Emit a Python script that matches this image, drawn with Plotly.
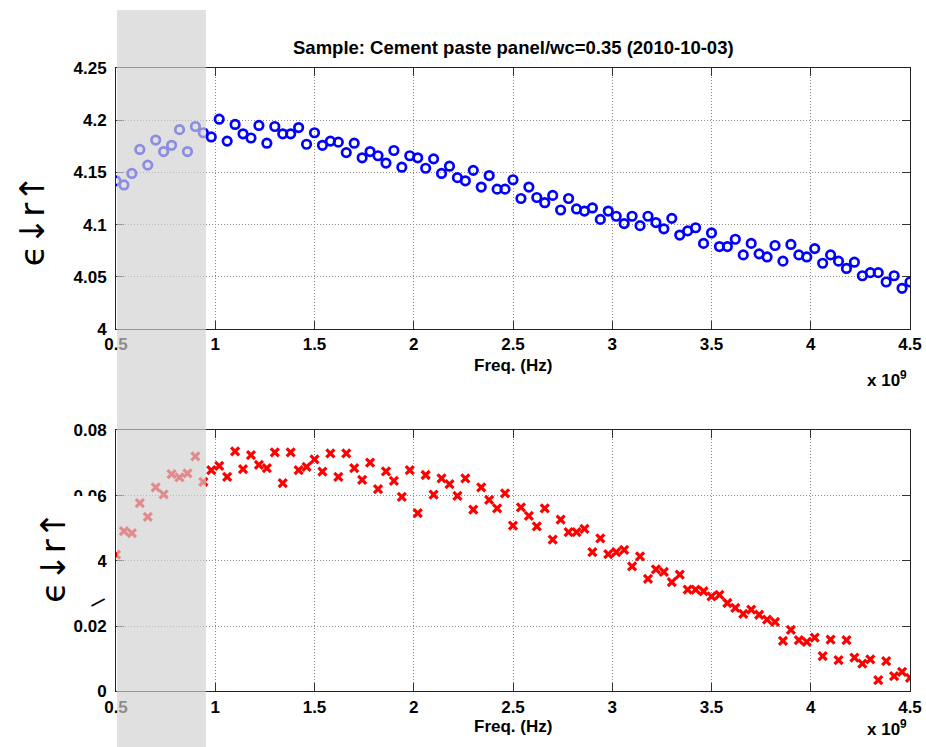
import plotly.graph_objects as go

freq_ghz = [0.50, 0.54, 0.58, 0.62, 0.66, 0.70, 0.74, 0.78, 0.82, 0.86,
            0.90, 0.94, 0.98, 1.02, 1.06, 1.10, 1.14, 1.18, 1.22, 1.26,
            1.30, 1.34, 1.38, 1.42, 1.46, 1.50, 1.54, 1.58, 1.62, 1.66,
            1.70, 1.74, 1.78, 1.82, 1.86, 1.90, 1.94, 1.98, 2.02, 2.06,
            2.10, 2.14, 2.18, 2.22, 2.26, 2.30, 2.34, 2.38, 2.42, 2.46,
            2.50, 2.54, 2.58, 2.62, 2.66, 2.70, 2.74, 2.78, 2.82, 2.86,
            2.90, 2.94, 2.98, 3.02, 3.06, 3.10, 3.14, 3.18, 3.22, 3.26,
            3.30, 3.34, 3.38, 3.42, 3.46, 3.50, 3.54, 3.58, 3.62, 3.66,
            3.70, 3.74, 3.78, 3.82, 3.86, 3.90, 3.94, 3.98, 4.02, 4.06,
            4.10, 4.14, 4.18, 4.22, 4.26, 4.30, 4.34, 4.38, 4.42, 4.46,
            4.50]

eps_real = [4.142, 4.138, 4.149, 4.172, 4.157, 4.181, 4.170, 4.176, 4.191, 4.170,
            4.194, 4.188, 4.184, 4.201, 4.180, 4.196, 4.187, 4.183, 4.195, 4.178,
            4.194, 4.187, 4.187, 4.193, 4.177, 4.188, 4.176, 4.180, 4.179, 4.169,
            4.178, 4.164, 4.170, 4.166, 4.159, 4.171, 4.155, 4.166, 4.164, 4.154,
            4.163, 4.149, 4.156, 4.145, 4.142, 4.152, 4.136, 4.147, 4.134, 4.134,
            4.143, 4.125, 4.136, 4.126, 4.121, 4.128, 4.114, 4.125, 4.115, 4.113,
            4.116, 4.105, 4.113, 4.108, 4.101, 4.108, 4.099, 4.108, 4.102, 4.096,
            4.106, 4.090, 4.094, 4.097, 4.082, 4.092, 4.079, 4.079, 4.086, 4.071,
            4.082, 4.072, 4.069, 4.080, 4.065, 4.081, 4.071, 4.069, 4.077, 4.063,
            4.071, 4.065, 4.058, 4.064, 4.051, 4.054, 4.054, 4.045, 4.051, 4.039,
            4.045]

eps_imag = [0.0419, 0.0491, 0.0485, 0.0577, 0.0535, 0.0625, 0.0604, 0.0666, 0.0656, 0.0668,
            0.0720, 0.0642, 0.0678, 0.0691, 0.0657, 0.0735, 0.0681, 0.0724, 0.0694, 0.0684,
            0.0732, 0.0638, 0.0732, 0.0678, 0.0688, 0.0711, 0.0673, 0.0729, 0.0657, 0.0729,
            0.0684, 0.0648, 0.0701, 0.0620, 0.0674, 0.0645, 0.0596, 0.0678, 0.0546, 0.0663,
            0.0603, 0.0653, 0.0635, 0.0599, 0.0653, 0.0557, 0.0625, 0.0587, 0.0561, 0.0607,
            0.0508, 0.0564, 0.0538, 0.0506, 0.0561, 0.0465, 0.0526, 0.0488, 0.0488, 0.0498,
            0.0427, 0.0469, 0.0421, 0.0427, 0.0434, 0.0383, 0.0414, 0.0345, 0.0374, 0.0366,
            0.0335, 0.0358, 0.0312, 0.0312, 0.0307, 0.0291, 0.0296, 0.0271, 0.0256, 0.0238,
            0.0251, 0.0235, 0.0220, 0.0213, 0.0155, 0.0189, 0.0157, 0.0152, 0.0165, 0.0108,
            0.0159, 0.0096, 0.0157, 0.0104, 0.0085, 0.0098, 0.0035, 0.0093, 0.0047, 0.0060,
            0.0042]

x_ticks = [0.5, 1, 1.5, 2, 2.5, 3, 3.5, 4, 4.5]
x_tick_labels = ["0.5", "1", "1.5", "2", "2.5", "3", "3.5", "4", "4.5"]
top_y_ticks = [4, 4.05, 4.1, 4.15, 4.2, 4.25]
top_y_labels = ["4", "4.05", "4.1", "4.15", "4.2", "4.25"]
bot_y_ticks = [0, 0.02, 0.04, 0.06, 0.08]
bot_y_labels = ["0", "0.02", "0.04", "0.06", "0.08"]
shade_range = [0.505, 0.953]

title_text = "Sample: Cement paste panel/wc=0.35 (2010-10-03)"
x_title = "Freq. (Hz)"
x_exp = "x 10<sup>9</sup>"
y_label = "ϵ↓r↑"

W, H = 926, 747
FONT = "Liberation Sans"
PW = W - 116 - 16


def py(p):
    # paper fraction for a target pixel row in the captured picture
    return 1 - (p - 8) / 731.0


def px(p):
    return (p - 116) / PW


fig = go.Figure()
fig.add_trace(go.Scatter(
    x=freq_ghz, y=eps_real, mode="markers", xaxis="x", yaxis="y",
    marker=dict(symbol="circle-open", size=8.5, color="#0000ff",
                line=dict(width=2.7, color="#0000ff")),
    showlegend=False))
fig.add_trace(go.Scatter(
    x=freq_ghz, y=eps_imag, mode="markers", xaxis="x2", yaxis="y2",
    marker=dict(symbol="x-thin-open", size=8, color="#ff0000",
                line=dict(width=3.2, color="#ff0000")),
    showlegend=False))

tickfont = dict(family=FONT, size=17, color="black", weight="bold")
axis_common = dict(showline=True, linecolor="#222", linewidth=1, mirror="ticks",
                   ticks="inside", ticklen=8, tickcolor="#333",
                   showgrid=True, gridcolor="#8a8a8a", griddash="1px,2px", gridwidth=1,
                   zeroline=False, tickfont=tickfont)

fig.update_layout(
    width=W, height=H,
    margin=dict(l=116, r=16, t=0, b=0),
    paper_bgcolor="white", plot_bgcolor="white",
    xaxis=dict(domain=[0, 1], range=[0.5, 4.5], tickvals=x_ticks, ticktext=x_tick_labels,
               anchor="y", **axis_common),
    yaxis=dict(domain=[py(329.3), py(67.3)], range=[4, 4.25], tickvals=top_y_ticks,
               ticktext=top_y_labels, anchor="x", ticklabelstandoff=5, **axis_common),
    xaxis2=dict(domain=[0, 1], range=[0.5, 4.5], tickvals=x_ticks, ticktext=x_tick_labels,
                anchor="y2", **axis_common),
    yaxis2=dict(domain=[py(693.3), py(431)], range=[0, 0.08], tickvals=bot_y_ticks,
                ticktext=bot_y_labels, anchor="x2", ticklabelstandoff=5, **axis_common),
)

# white box that hides part of the lower tick labels (as in the source)
fig.add_shape(type="rect", xref="paper", yref="paper",
              x0=px(20), x1=px(98), y0=py(612), y1=py(497),
              fillcolor="white", line=dict(width=0), layer="above")
# grey shaded band
fig.add_shape(type="rect", xref="x", yref="paper",
              x0=shade_range[0], x1=shade_range[1], y0=-0.02, y1=py(9),
              fillcolor="rgba(209,209,209,0.67)", line=dict(width=0), layer="above")

ann_font = dict(family=FONT, size=17, color="black", weight="bold")
fig.add_annotation(text=title_text, xref="paper", yref="paper", x=0.5, y=py(47),
                   showarrow=False, font=dict(family=FONT, size=18.5, color="black", weight="bold"),
                   xanchor="center", yanchor="middle")
for yc_lab, yc_exp in [(366, 380), (728, 729)]:
    fig.add_annotation(text=x_title, xref="paper", yref="paper", x=0.5, y=py(yc_lab),
                       showarrow=False, font=ann_font, xanchor="center", yanchor="middle")
for yc_exp in [380, 730]:
    fig.add_annotation(text=x_exp, xref="paper", yref="paper", x=px(887),
                       y=py(yc_exp), showarrow=False, font=ann_font,
                       xanchor="center", yanchor="middle")

lab_font = dict(family="DejaVu Sans", size=34, color="black")
fig.add_annotation(text=y_label, xref="paper", yref="paper", x=px(32),
                   y=py(220), showarrow=False, textangle=-90, font=lab_font,
                   xanchor="center", yanchor="middle")
fig.add_annotation(text=y_label, xref="paper", yref="paper", x=px(53),
                   y=py(558), showarrow=False, textangle=-90, font=lab_font,
                   xanchor="center", yanchor="middle")
fig.add_annotation(text="|", xref="paper", yref="paper", x=px(98),
                   y=py(603), showarrow=False, textangle=62,
                   font=dict(family="DejaVu Sans", size=15, color="black", weight="bold"),
                   xanchor="center", yanchor="middle")

fig.write_html("out.html")
